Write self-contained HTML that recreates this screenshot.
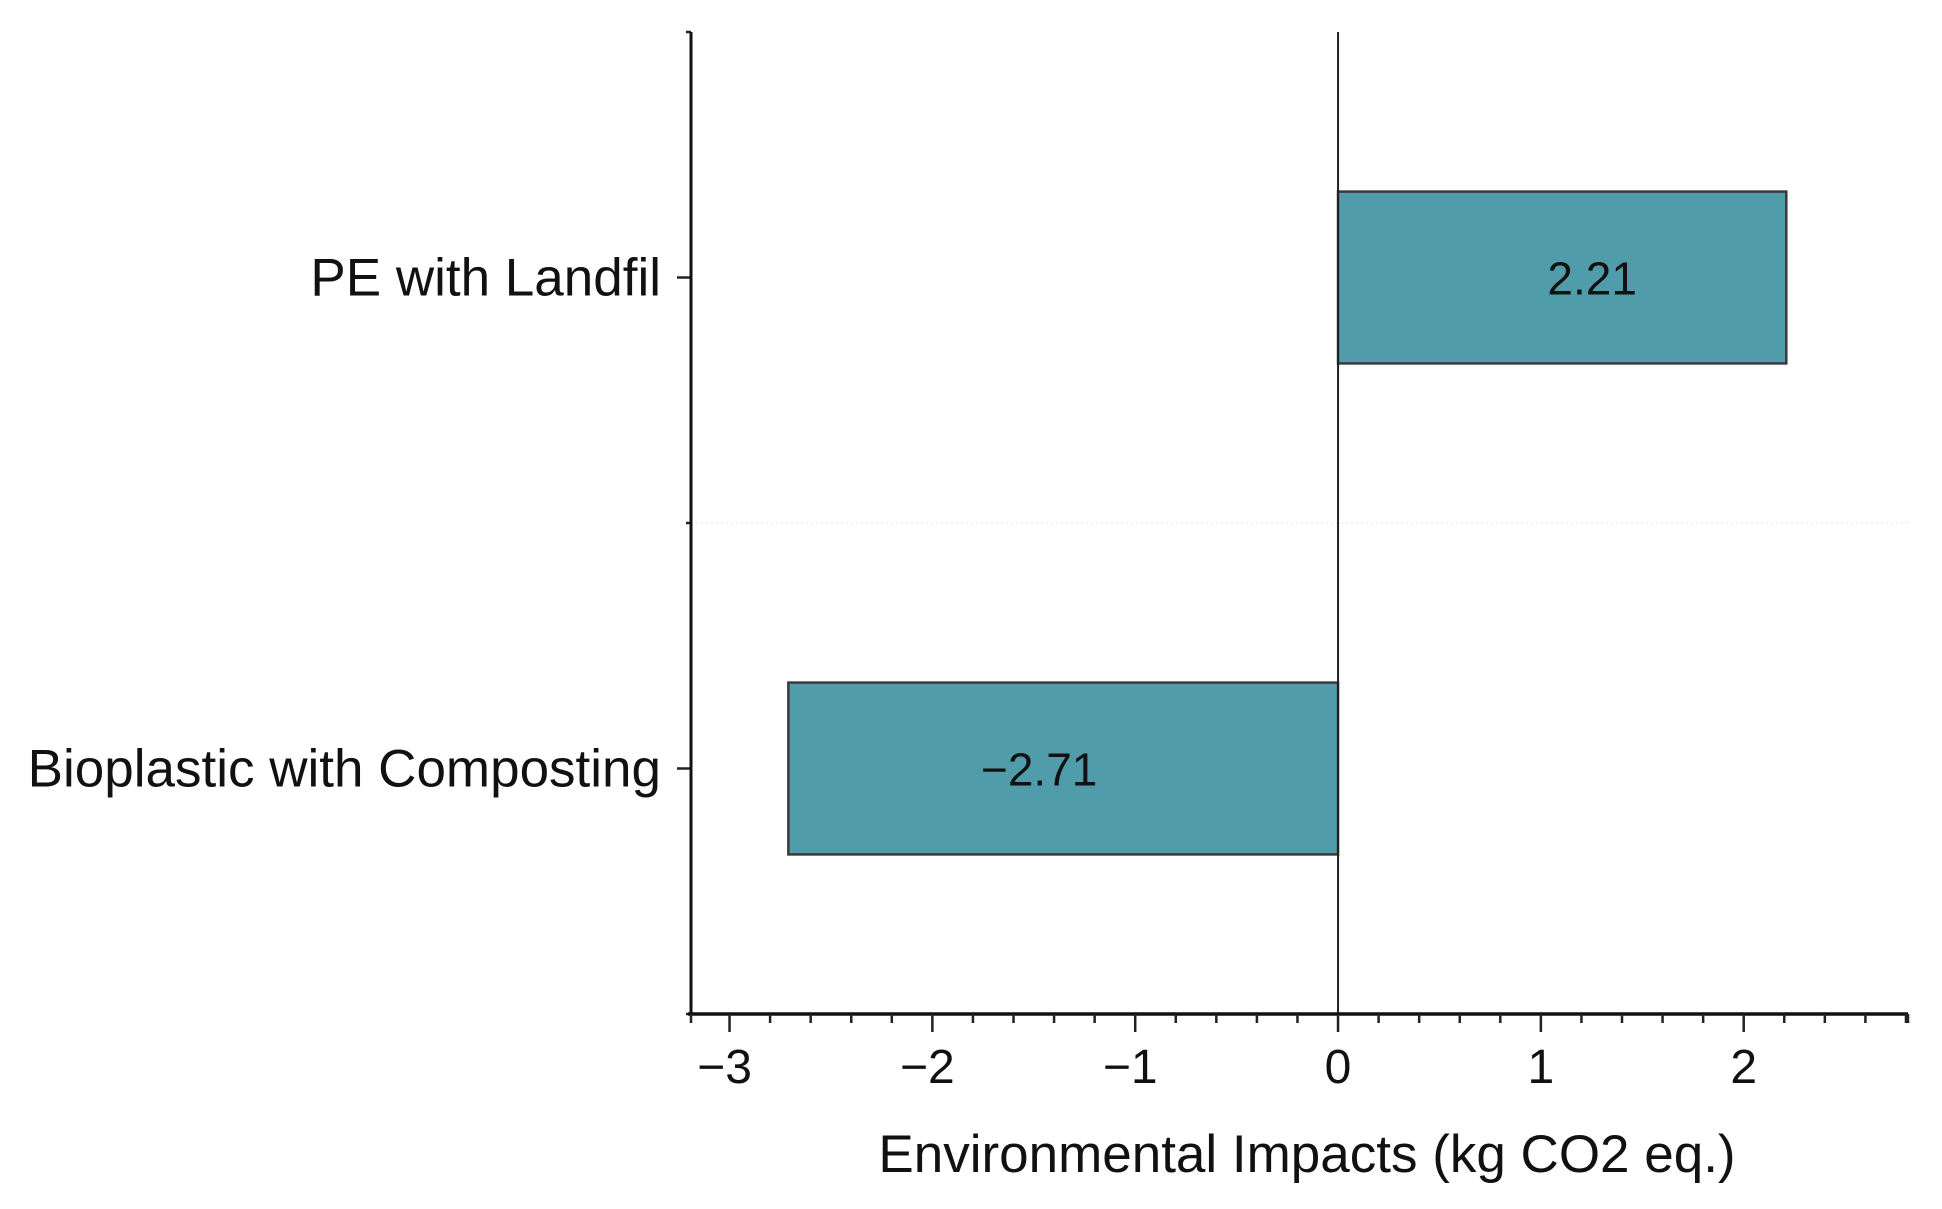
<!DOCTYPE html>
<html><head><meta charset="utf-8"><style>
html,body{margin:0;padding:0;background:#fff;}
svg{display:block;font-family:"Liberation Sans",Arial,sans-serif;}
</style></head><body>
<svg id="chart" width="1942" height="1209" viewBox="0 0 1942 1209"></svg>
<script>
const categories = ["PE with Landfil", "Bioplastic with Composting"];
const values = [2.21, -2.71];
const valueLabels = ["2.21", "\u22122.71"];
const xTicks = [-3, -2, -1, 0, 1, 2];
const xTickLabels = ["\u22123", "\u22122", "\u22121", "0", "1", "2"];
const xMin = -3.19, xMax = 2.81;

const NS = "http://www.w3.org/2000/svg";
const svg = document.getElementById("chart");
const L = 691, R = 1908, T = 32, B = 1014;
const x = v => L + (v - xMin) / (xMax - xMin) * (R - L);
const band = (B - T) / categories.length;
const yc = i => T + band * (i + 0.5);

function mk(tag, attrs, parent) {
  const e = document.createElementNS(NS, tag);
  for (const k in attrs) e.setAttribute(k, attrs[k]);
  (parent || svg).appendChild(e);
  return e;
}

const sep = mk("line", {x1: L, x2: R, y1: T + band, y2: T + band, stroke: "#e6e6e6", "stroke-width": 1, "stroke-dasharray": "2,3"});



categories.forEach((c, i) => {
  const v = values[i];
  const h = band * 0.35;
  const x0 = x(Math.min(0, v)), x1 = x(Math.max(0, v));
  const r = mk("rect", {x: x0, y: yc(i) - h / 2, width: x1 - x0, height: h, fill: "#519caa", stroke: "#3a3a3a", "stroke-width": 2.5});
  
  
  const t = mk("text", {x: (x0 + x1) / 2 + (v >= 0 ? 30 : -24), y: yc(i) + 17, "text-anchor": "middle", "font-size": 46, fill: "#111"});
  t.textContent = valueLabels[i];
  
  
  const tk = mk("line", {x1: L - 14, x2: L, y1: yc(i), y2: yc(i), stroke: "#222", "stroke-width": 2.5});
  
  
  const cl = mk("text", {x: 661, y: yc(i) + 18, "text-anchor": "end", "font-size": 53, fill: "#111"});
  cl.textContent = c;
  
  
});

[T, T + band, B].forEach(yy => {
  const e = mk("line", {x1: L - 5, x2: L, y1: yy, y2: yy, stroke: "#222", "stroke-width": 2.5});
  
  
});

const z = mk("line", {x1: x(0), x2: x(0), y1: T, y2: B, stroke: "#222", "stroke-width": 2});



const ya = mk("line", {x1: L, x2: L, y1: T, y2: B, stroke: "#111", "stroke-width": 3});


const xa = mk("line", {x1: L - 3, x2: R, y1: B, y2: B, stroke: "#111", "stroke-width": 3.5});



for (let k = Math.ceil(xMin * 5); k <= Math.floor(xMax * 5); k++) {
  const v = k / 5;
  const major = k % 5 === 0;
  const e = mk("line", {x1: x(v), x2: x(v), y1: B, y2: B + (major ? 18 : 9), stroke: "#222", "stroke-width": 2.5});
  
  
}
[L, R].forEach(xx => {
  const e = mk("line", {x1: xx, x2: xx, y1: B, y2: B + 9, stroke: "#222", "stroke-width": 2.5});
  
  
});

xTicks.forEach((v, i) => {
  const t = mk("text", {x: x(v) + (v < 0 ? -5 : 0), y: 1083, "text-anchor": "middle", "font-size": 48, fill: "#111"});
  t.textContent = xTickLabels[i];
  
  
});

const title = mk("text", {x: 1307, y: 1172, "text-anchor": "middle", "font-size": 53, fill: "#111"});
title.textContent = "Environmental Impacts (kg CO2 eq.)";


</script>
</body></html>
